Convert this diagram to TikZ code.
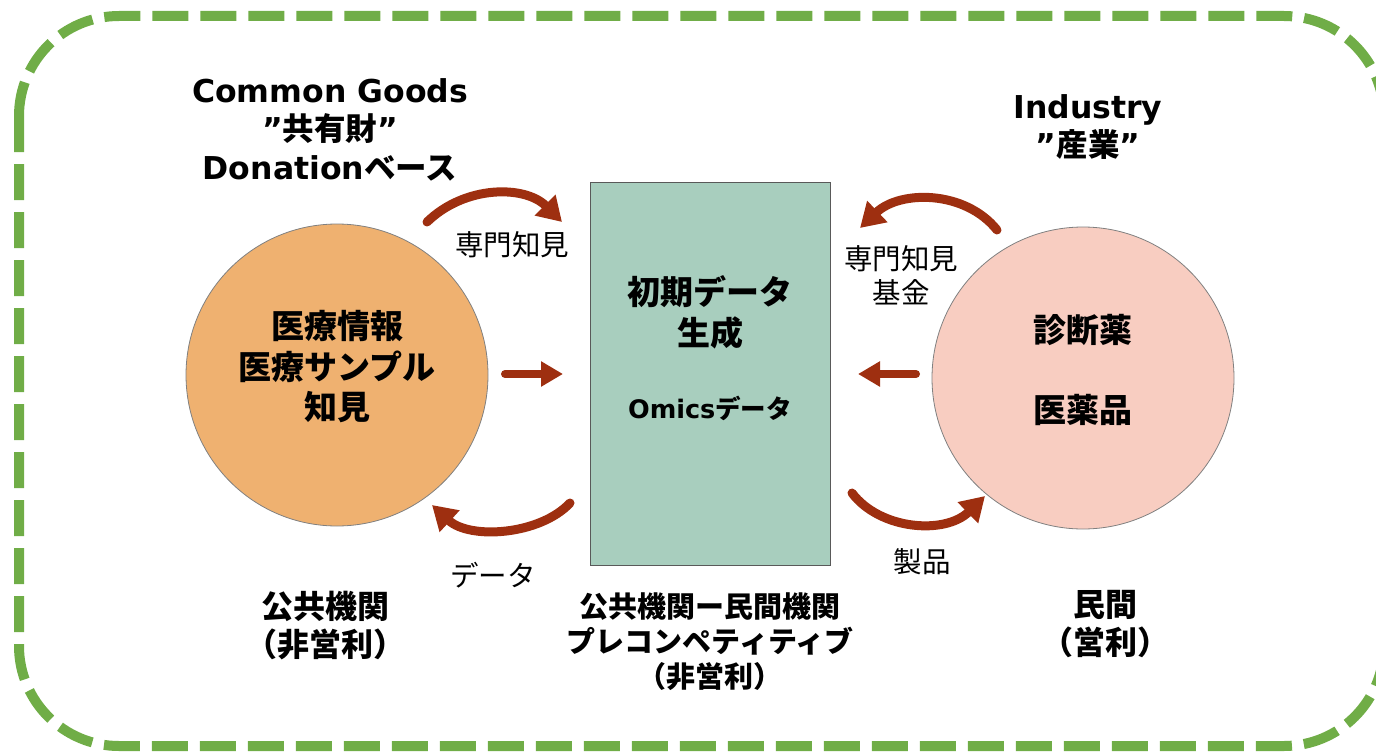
\documentclass[tikz,border=0pt]{standalone}
\usepackage{fontspec}
\setmainfont{Noto Sans CJK JP}
\newfontfamily\lat{DejaVu Sans}
\usetikzlibrary{arrows.meta}
\definecolor{bordergreen}{HTML}{70AD47}
\definecolor{arrred}{HTML}{9E2F10}
\definecolor{orangefill}{HTML}{EFB170}
\definecolor{pinkfill}{HTML}{F8CDC1}
\definecolor{greenfill}{HTML}{A8CEBE}
\tikzset{
  arr/.style={draw=arrred, line width=9pt, line cap=round, -{Triangle[length=24pt,width=28pt]}},
  sarr/.style={draw=arrred, line width=8pt, line cap=round, -{Triangle[length=22pt,width=24pt]}},
  title/.style={align=center, font=\lat\bfseries\fontsize{31.5}{38.5}\selectfont, inner sep=0pt},
  boldjp/.style={align=center, font=\bfseries\fontsize{33}{40.5}\selectfont, inner sep=0pt},
  botjp/.style={align=center, font=\bfseries\fontsize{32}{38}\selectfont, inner sep=0pt},
  lbl/.style={align=center, font=\fontsize{28.5}{34}\selectfont, inner sep=0pt},
}
\begin{document}
\begin{tikzpicture}[x=1pt,y=-1pt]
\useasboundingbox (0,0) rectangle (1376,752);
% border
\draw[bordergreen, line width=10pt, dash pattern=on 36pt off 12pt, rounded corners=100pt] (19,16) rectangle (1384,746);

% shapes
\node[circle, draw=black!50, line width=0.8pt, fill=orangefill, minimum size=302pt, inner sep=0pt] (lc) at (337,375) {};
\node[circle, draw=black!50, line width=0.8pt, fill=pinkfill, minimum size=302pt, inner sep=0pt] (rc) at (1083,378) {};
\node[rectangle, draw=black!65, line width=0.8pt, fill=greenfill, minimum width=240pt, minimum height=383pt, inner sep=0pt] (box) at (710,373.5) {};

% titles
\node[title] (tl) at (330,129.5) {Common Goods\\”{\rmfamily 共有財}”\\Donation{\rmfamily ベース}};
\node[title] (tr) at (1088,127) {Industry\\”{\rmfamily 産業}”};

% circle texts
\node[boldjp] (lct) at (337,367) {医療情報\\医療サンプル\\知見};
\node[boldjp] (rct1) at (1083,330) {診断薬};
\node[boldjp] (rct2) at (1083,410) {医薬品};
\node[boldjp] (bxt) at (710,312.5) {初期データ\\生成};
\node[inner sep=0pt, font=\bfseries\fontsize{25.5}{30}\selectfont] (omics) at (710,408) {{\lat Omics}データ};

% labels
\node[lbl] (l1) at (512,245) {専門知見};
\node[lbl] (l2) at (901,275) {専門知見\\基金};
\node[lbl] (l3) at (493,575) {データ};
\node[lbl] (l4) at (922,562) {製品};

% bottom texts
\node[botjp] (b1) at (325,626) {公共機関\\（非営利）};
\node[align=center, font=\bfseries\fontsize{29}{35}\selectfont, inner sep=0pt] (b2) at (710,642) {公共機関ー民間機関\\プレコンペティティブ\\（非営利）};
\node[botjp] (b3) at (1105,624) {民間\\（営利）};

% arrow endpoints
\coordinate (a1s) at (427,222); \coordinate (a1e) at (562,222);
\coordinate (a2s) at (570,503); \coordinate (a2e) at (432,505);
\coordinate (a3s) at (997,230); \coordinate (a3e) at (860,228);
\coordinate (a4s) at (852,493); \coordinate (a4e) at (985,496);
\coordinate (a5s) at (505,374); \coordinate (a5e) at (563,374);
\coordinate (a6s) at (916,374); \coordinate (a6e) at (858,374);

\draw[arr] (a1s) .. controls (465,185) and (525,185) .. (a1e);
\draw[arr] (a2s) .. controls (540,535) and (470,540) .. (a2e);
\draw[arr] (a3s) .. controls (965,190) and (900,190) .. (a3e);
\draw[arr] (a4s) .. controls (880,530) and (945,535) .. (a4e);
\draw[sarr] (a5s) -- (a5e);
\draw[sarr] (a6s) -- (a6e);
\end{tikzpicture}
\end{document}
